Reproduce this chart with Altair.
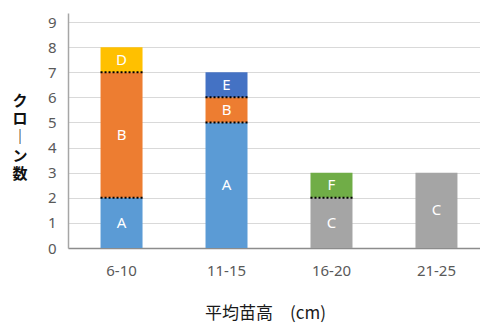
import altair as alt
import pandas as pd

# Clone counts per mean seedling height class, stacked by clone group
categories = ["6-10", "6-10", "6-10", "11-15", "11-15", "11-15", "16-20", "16-20", "21-25"]
groups = ["A", "B", "D", "A", "B", "E", "C", "F", "C"]
counts = [2, 5, 1, 5, 1, 1, 2, 1, 3]

class_order = ["6-10", "11-15", "16-20", "21-25"]
group_colors = {
    "A": "#5B9BD5",
    "B": "#ED7D31",
    "C": "#A5A5A5",
    "D": "#FFC000",
    "E": "#4472C4",
    "F": "#70AD47",
}

x_title = "平均苗高　(cm)"
# vertical y-axis title, one character per line
y_title = ["ク", "ロ", "｜", "ン", "数"]

df = pd.DataFrame({"cls": categories, "grp": groups, "n": counts})
df["y1"] = df.groupby("cls")["n"].cumsum()
df["y0"] = df["y1"] - df["n"]
df["mid"] = (df["y0"] + df["y1"]) / 2
df["top"] = df.groupby("cls")["y1"].transform("max")
# boundaries between stacked segments (not the top of a bar)
bounds = df[df["y1"] < df["top"]][["cls", "y1"]]

font = "Noto Sans CJK JP"

x_scale = alt.Scale(domain=class_order, range=[0, 422], paddingInner=0.6, paddingOuter=0.31)
y_scale = alt.Scale(domain=[0, 9.36], nice=False)

x_axis = alt.Axis(
    labelAngle=0,
    ticks=False,
    labelPadding=15,
    labelFontSize=15,
    labelColor="#595959",
    labelFont="Noto Sans",
    domainColor="#8C8C8C",
    domainWidth=1.5,
    titleFont=font,
    titleFontSize=17,
    titleFontWeight="normal",
    titleColor="#1a1a1a",
    titlePadding=27,
    titleAlign="center",
    titleX=197,
)

y_axis = alt.Axis(
    values=[0, 1, 2, 3, 4, 5, 6, 7, 8, 9],
    labelOverlap=False,
    ticks=False,
    labelPadding=12,
    labelFontSize=15,
    labelColor="#595959",
    labelFont="Noto Sans",
    domainColor="#A6A6A6",
    domainWidth=1.5,
    gridColor="#D9D9D9",
    gridWidth=1,
    title=None,
)

bars = alt.Chart(df).mark_bar().encode(
    x=alt.X("cls:N", scale=x_scale, title=x_title, axis=x_axis),
    y=alt.Y("y0:Q", scale=y_scale, axis=y_axis),
    y2="y1:Q",
    color=alt.Color(
        "grp:N",
        scale=alt.Scale(domain=list(group_colors), range=list(group_colors.values())),
        legend=None,
    ),
)

labels = alt.Chart(df).mark_text(
    color="white", fontSize=15, font="Noto Sans", baseline="middle"
).encode(
    x=alt.X("cls:N", scale=x_scale, title=x_title, axis=x_axis),
    y=alt.Y("mid:Q", scale=y_scale, axis=y_axis),
    text="grp:N",
)

dividers = alt.Chart(bounds).mark_rule(
    color="black", strokeWidth=2, strokeDash=[2, 2]
).encode(
    x=alt.X("cls:N", scale=x_scale, bandPosition=0, title=x_title, axis=x_axis),
    x2=alt.X2("cls", bandPosition=1),
    y=alt.Y("y1:Q", scale=y_scale, axis=y_axis),
)

y_label = alt.Chart(pd.DataFrame({"t": [0]})).mark_text(
    text=y_title,
    font=font,
    fontSize=15,
    fontWeight="bold",
    color="#111111",
    lineHeight=18.2,
    align="center",
    baseline="top",
).encode(x=alt.value(-48), y=alt.value(81))

chart = (
    alt.layer(bars, dividers, labels, y_label)
    .properties(
        width=412,
        height=235,
        autosize=alt.AutoSizeParams(type="none"),
        padding={"left": 68, "top": 13, "right": 0, "bottom": 75},
    )
    .configure_view(stroke=None)
)

chart.save("out.html", embed_options={"renderer": "svg", "actions": False})
